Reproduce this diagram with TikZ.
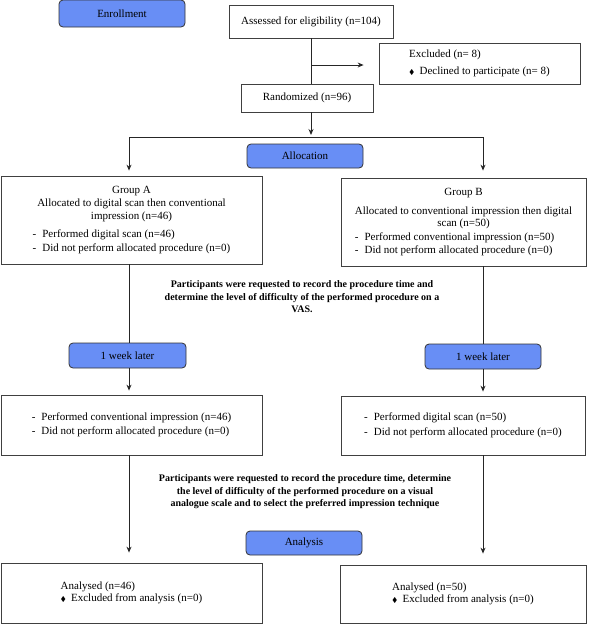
\documentclass[tikz,border=0pt]{standalone}
\usepackage{fontspec}
\setmainfont{Liberation Serif}
\usepackage{amssymb}
\usetikzlibrary{arrows.meta, positioning, calc}
\definecolor{stageblue}{RGB}{104,142,245}
\tikzstyle{box} = [rectangle, draw=black!75, line width=0.8pt, fill=white, inner sep=0pt, font=\fontsize{11}{13.5}\selectfont]
\tikzstyle{stage} = [rectangle, rounded corners=4pt, draw=black!80, line width=0.8pt, fill=stageblue, minimum width=116pt, minimum height=24pt, font=\fontsize{11}{13}\selectfont]
\tikzstyle{note} = [align=center, font=\fontsize{10}{12.5}\selectfont\bfseries]
\tikzstyle{link} = [line width=0.9pt, black!85]
\tikzstyle{flow} = [link, ->, >={Stealth[length=6pt,width=5pt]}]
\newcommand{\dashitem}{-\hspace{6pt}}
\newcommand{\diaitem}{{\scriptsize$\blacklozenge$}\hspace{5pt}}

\begin{document}
\begin{tikzpicture}[x=1pt, y=-1pt]
	\useasboundingbox (0,0) rectangle (591,624);

	% Stage labels
	\node (enroll) [stage, minimum width=126pt, minimum height=27pt] at (122,13.5) {Enrollment};
	\node (alloc) [stage] at (305,156) {Allocation};
	\node (weekA) [stage, minimum width=117pt, minimum height=25pt] at (127.5,355.5) {1 week later};
	\node (weekB) [stage, minimum height=25pt] at (483,356.5) {1 week later};
	\node (analysis) [stage] at (304,543) {Analysis};

	% Enrollment
	\node (assess) [box, minimum width=164pt, minimum height=33pt] at (311,21.5) {Assessed for eligibility (n=104)};
	\node (excl) [box, minimum width=201pt, minimum height=41pt] at (479.5,63.5) {%
		\begin{tabular}{@{}l@{}}Excluded (n= 8)\\[3pt] \diaitem Declined to participate (n= 8)\end{tabular}};
	\node (rand) [box, minimum width=132pt, minimum height=28pt] at (307,98) {Randomized (n=96)};

	% Groups
	\node (grpA) [box, minimum width=261pt, minimum height=88pt] at (131.5,220) {%
		\begin{tabular}{@{}l@{}}
		\multicolumn{1}{@{}c@{}}{Group A}\\[-1pt]
		\multicolumn{1}{@{}c@{}}{Allocated to digital scan then conventional}\\
		\multicolumn{1}{@{}c@{}}{impression (n=46)}\\[4pt]
		\dashitem Performed digital scan (n=46)\\[1pt]
		\dashitem Did not perform allocated procedure (n=0)
		\end{tabular}};
	\node (grpB) [box, minimum width=245pt, minimum height=88pt] at (463.5,222) {%
		\begin{tabular}{@{}l@{}}
		\multicolumn{1}{@{}c@{}}{Group B}\\[5pt]
		\multicolumn{1}{@{}c@{}}{Allocated to conventional impression then digital}\\[-1pt]
		\multicolumn{1}{@{}c@{}}{scan (n=50)}\\
		\dashitem Performed conventional impression (n=50)\\[0pt]
		\dashitem Did not perform allocated procedure (n=0)
		\end{tabular}};

	\node (noteA) [note] at (302,297) {Participants were requested to record the procedure time and\\determine the level of difficulty of the performed procedure on a\\VAS.};

	% Second procedure
	\node (boxA) [box, minimum width=261pt, minimum height=60pt] at (131.5,425) {%
		\begin{tabular}{@{}l@{}}\dashitem Performed conventional impression (n=46)\\[1pt] \dashitem Did not perform allocated procedure (n=0)\end{tabular}};
	\node (boxB) [box, minimum width=244pt, minimum height=59pt] at (463,425.5) {%
		\begin{tabular}{@{}l@{}}\dashitem Performed digital scan (n=50)\\[1pt] \dashitem Did not perform allocated procedure (n=0)\end{tabular}};

	\node (noteB) [note] at (305,492) {Participants were requested to record the procedure time, determine\\the level of difficulty of the performed procedure on a visual\\analogue scale and to select the preferred impression technique};

	% Analysis
	\node (anaA) [box, minimum width=261pt, minimum height=60pt] at (131.5,593) {%
		\begin{tabular}{@{}l@{}}Analysed (n=46)\\[-2pt] \diaitem Excluded from analysis (n=0)\end{tabular}};
	\node (anaB) [box, minimum width=246pt, minimum height=58pt] at (463,594) {%
		\begin{tabular}{@{}l@{}}Analysed (n=50)\\[-2pt] \diaitem Excluded from analysis (n=0)\end{tabular}};

	% Helper points
	\coordinate (split) at (311,65);
	\coordinate (branchA) at (129,137);
	\coordinate (branchB) at (483,137);

	% Arrows - enrollment
	\draw[link] (assess.south -| split) -- (rand.north -| split);
	\draw[flow] (split) -- ([xshift=-15pt]excl.west |- split);
	\draw[flow] (rand.south -| split) -- ([yshift=2pt]split |- branchA);
	\draw[link] (branchA) -- (branchB);

	% Arrows - group A
	\draw[flow] (branchA) -- ([yshift=5pt]grpA.north -| branchA);
	\draw[link] (grpA.south -| branchA) -- (weekA.north -| branchA);
	\draw[flow] (weekA.south -| branchA) -- ([yshift=4pt]boxA.north -| branchA);
	\draw[flow] (boxA.south -| branchA) -- ([yshift=10pt]anaA.north -| branchA);

	% Arrows - group B
	\draw[flow] (branchB) -- ([yshift=7pt]grpB.north -| branchB);
	\draw[link] (grpB.south -| branchB) -- (weekB.north -| branchB);
	\draw[flow] (weekB.south -| branchB) -- ([yshift=4pt]boxB.north -| branchB);
	\draw[flow] (boxB.south -| branchB) -- ([yshift=11pt]anaB.north -| branchB);

\end{tikzpicture}
\end{document}
